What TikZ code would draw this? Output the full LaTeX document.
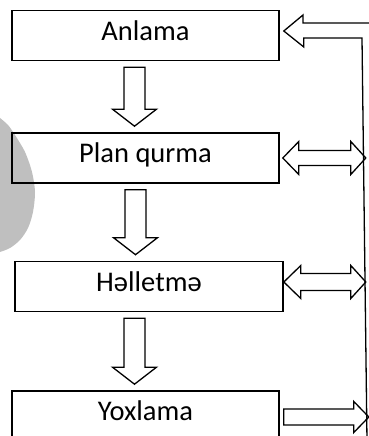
\documentclass[tikz,border=0pt]{standalone}
\usepackage{fontspec}
\setmainfont{Carlito}
\usetikzlibrary{calc}
\tikzset{
  every node/.style={font=\fontsize{28.5}{30}\selectfont},
  stage/.style={draw, line width=1.6pt, minimum width=267pt, minimum height=50pt,
                inner sep=0pt, text height=18pt, text depth=8pt},
  blk/.style={draw, line width=1.3pt, line join=miter},
}
% hollow block arrow pointing down, between two stages, at a given x
\newcommand{\blkdown}[3]{%
  \draw[blk] let \p1=(#1.south), \p2=(#2.north) in
    (#3pt-10.5pt,\y1-6pt) -- (#3pt+10.5pt,\y1-6pt) -- (#3pt+10.5pt,\y2+23pt)
    -- (#3pt+22pt,\y2+23pt) -- (#3pt,\y2+6pt) -- (#3pt-22pt,\y2+23pt)
    -- (#3pt-10.5pt,\y2+23pt) -- cycle;}

\begin{document}
\begin{tikzpicture}[x=1pt, y=1pt]
  \useasboundingbox (0,0) rectangle (369,436);
  \clip (0,0) rectangle (369,436);
  % grey smudge on the left
  \fill[gray!50] plot[smooth] coordinates {(0,318) (8,311) (15,301) (25,284) (32,264)
    (35,244) (33,224) (28,208) (20,196) (10,188) (0,184)} -- cycle;
  % the four stages
  \node[stage] (anl) at (145.5,400.5) {Anlama};
  \node[stage] (pln) at (145.5,278) {Plan qurma};
  \node[stage, minimum width=268pt] (hll) at (149,149.5) {Həlletmə};
  \node[stage] (yox) at (145.5,20) {Yoxlama};
  % downward flow
  \blkdown{anl}{pln}{134.5}
  \blkdown{pln}{hll}{135.5}
  \blkdown{hll}{yox}{134.5}
  % return line on the right
  \coordinate (fbin) at (372,413);
  \coordinate (rturn) at (362,398);
  \coordinate (rbot) at (367,-5);
  \draw[blk] (fbin) -- ++(-69,0) -- ++(0,8) -- ([xshift=4pt,yshift=4.5pt]anl.east)
    -- ++(20,-16) -- ++(0,9) -- (rturn) -- (rbot);
  % two-way arrows to the return line
  \draw[blk] ([xshift=3pt]pln.east) -- ++(16,16.5) -- ++(0,-9) -- ++(52,0) -- ++(0,9)
    -- ++(15,-16.5) -- ++(-15,-16.5) -- ++(0,9) -- ++(-52,0) -- ++(0,-9) -- cycle;
  \draw[blk] ([yshift=4.5pt]hll.east) -- ++(17,16.5) -- ++(0,-8) -- ++(50,0) -- ++(0,8)
    -- ++(15,-16.5) -- ++(-15,-16.5) -- ++(0,8) -- ++(-50,0) -- ++(0,-8) -- cycle;
  % from the check back out
  \draw[blk] ([xshift=4pt,yshift=7pt]yox.east) -- ++(70,0) -- ++(0,7.5) -- ++(15,-15.5)
    -- ++(-15,-15.5) -- ++(0,7.5) -- ++(-70,0) -- cycle;
\end{tikzpicture}
\end{document}
